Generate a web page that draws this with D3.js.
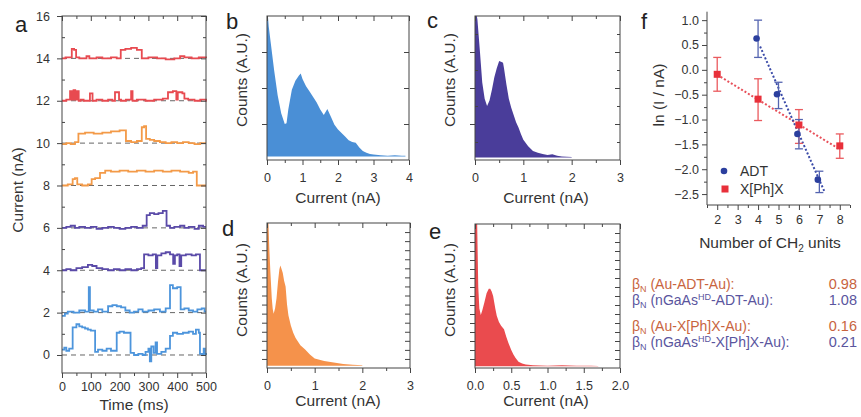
<!DOCTYPE html>
<html>
<head>
<meta charset="utf-8">
<script src="https://cdn.jsdelivr.net/npm/d3@7"></script>
<style>
body{margin:0;background:#fff}
svg{font-family:"Liberation Sans",Arial,sans-serif}
.tk line{stroke:#444}
.tk text{fill:#333;font-size:12.5px;font-family:"Liberation Sans",Arial,sans-serif}
.ttl{fill:#333;font-size:15.5px}
.lbl{fill:#222;font-size:22px}
</style>
</head>
<body>
<svg width="861" height="417"></svg>
<script>
// ---- panel a : current traces (time in ms, current in nA) ----
var timeTicks = [0,100,200,300,400,500]
var currentTicks = [0,2,4,6,8,10,12,14,16]
var traceBase = [0,2,4,6,8,10,12,14]
var traceColor = ["#4d95dc","#4d95dc","#5a4aa8","#5a4aa8","#f39a48","#f39a48","#e84a50","#e84a50"]

var trace0 = [[0,0.25],[8,0.35],[15,0.2],[25,0.3],[37,1.3],[50,1.45],[60,1.35],[70,1.3],[80,1.25],[90,1.2],[100,1.15],[115,0.15],[125,0.25],[140,0.2],[155,0.3],[170,0.2],[190,1.05],[200,1.1],[215,1.05],[238,0.1],[250,0.0],[265,0.05],[280,0.0],[290,0.15],[300,0.3],[305,-0.3],[310,0.4],[318,0.1],[325,0.6],[330,0.05],[345,0.15],[360,0.3],[375,0.9],[385,1.05],[400,1.0],[420,1.05],[440,1.1],[455,1.0],[465,1.2],[475,1.05],[479,0.05],[488,0.0],[492,0.3],[496,0.05],[500,0]]
var trace2 = [[0,1.85],[10,1.95],[20,2.05],[40,2.0],[60,2.1],[80,2.05],[93,3.2],[97,2.1],[110,2.05],[125,2.15],[140,2.05],[160,2.3],[175,2.35],[190,2.3],[205,2.25],[220,2.1],[235,2.0],[250,2.05],[265,2.15],[280,2.05],[300,2.1],[320,2.15],[340,2.05],[360,2.2],[375,3.3],[385,3.15],[400,3.2],[412,2.15],[425,2.2],[440,2.1],[455,2.05],[470,2.15],[485,2.2],[495,2.05],[500,2.05]]
var trace4 = [[0,4.0],[15,4.05],[30,4.0],[50,4.1],[70,4.15],[90,4.25],[105,4.2],[120,4.1],[140,4.05],[160,4.0],[180,4.05],[200,4.0],[220,4.05],[240,4.0],[260,4.05],[275,4.1],[285,4.75],[300,4.7],[315,4.75],[326,4.1],[331,4.7],[345,4.8],[360,4.85],[375,4.75],[386,4.3],[392,4.7],[400,4.75],[408,4.2],[414,4.7],[430,4.75],[450,4.7],[465,4.75],[479,4.0],[490,4.0],[500,4.0]]
var trace6 = [[0,6.0],[15,6.05],[30,6.1],[45,6.0],[60,6.05],[80,6.0],[100,6.05],[120,5.95],[140,6.0],[160,6.05],[180,6.0],[200,5.95],[220,6.0],[240,6.05],[260,6.0],[280,6.1],[294,6.6],[305,6.7],[320,6.65],[335,6.7],[350,6.8],[363,6.1],[375,6.0],[390,6.05],[410,6.1],[425,6.0],[440,6.05],[460,5.95],[475,6.1],[490,6.05],[500,6.05]]
var trace8 = [[0,8.0],[20,8.05],[37,8.3],[45,8.35],[53,8.05],[70,8.0],[90,8.05],[103,8.3],[115,8.35],[132,8.6],[150,8.7],[170,8.65],[200,8.7],[230,8.65],[260,8.7],[290,8.65],[320,8.7],[350,8.65],[380,8.7],[410,8.65],[440,8.6],[455,8.65],[468,8.0],[500,8.0]]
var trace10 = [[0,9.95],[15,10.0],[30,9.95],[45,10.05],[57,10.45],[80,10.5],[110,10.45],[140,10.5],[170,10.55],[200,10.6],[222,10.1],[240,10.05],[260,10.1],[277,10.75],[285,10.8],[292,10.2],[305,10.15],[320,10.1],[340,10.05],[360,10.0],[380,10.05],[400,10.0],[420,10.05],[440,10.0],[460,9.95],[480,10.0],[500,10.0]]
var trace12 = [[0,12.0],[15,12.05],[28,12.45],[34,12.05],[40,12.5],[46,12.05],[52,12.45],[58,12.0],[65,12.05],[75,12.0],[97,12.35],[106,12.0],[120,12.05],[140,12.0],[160,12.05],[175,12.0],[184,12.4],[198,12.05],[205,12.0],[222,12.05],[240,12.45],[245,12.0],[260,12.05],[290,12.0],[320,12.05],[350,12.1],[368,12.4],[385,12.45],[397,12.05],[402,12.4],[418,12.35],[425,12.1],[438,12.05],[460,12.0],[480,12.05],[500,11.95]]
var trace14 = [[0,14.0],[12,14.05],[34,14.45],[42,14.4],[49,14.05],[60,14.0],[85,14.1],[95,14.0],[120,14.05],[140,14.0],[170,14.05],[190,14.0],[204,14.4],[220,14.45],[240,14.5],[260,14.4],[277,14.0],[300,14.05],[330,14.0],[360,13.95],[390,14.0],[410,14.1],[425,14.05],[450,14.0],[475,14.05],[500,14.0]]
var traces = [trace0,trace2,trace4,trace6,trace8,trace10,trace12,trace14]

// ---- panels b-e : conductance histograms ----
var histB_x = [0,0.05,0.1,0.2,0.3,0.4,0.5,0.55,0.6,0.7,0.8,0.9,0.95,1.0,1.1,1.2,1.3,1.4,1.5,1.6,1.7,1.8,1.9,2.0,2.1,2.2,2.3,2.4,2.5,2.6,2.7,2.8,2.9,3.0,3.2,3.4,3.6,3.8,3.9]
var histB_y = [4.3,3.7,3.3,2.5,1.8,1.3,1.0,1.02,1.4,1.95,2.2,2.35,2.4,2.25,2.05,1.9,1.75,1.6,1.4,1.25,1.42,1.2,0.98,0.85,0.75,0.65,0.55,0.5,0.48,0.35,0.25,0.2,0.17,0.15,0.13,0.12,0.13,0.12,0.12]
var histC_x = [0,0.05,0.1,0.15,0.2,0.25,0.3,0.35,0.4,0.45,0.5,0.55,0.58,0.6,0.65,0.7,0.75,0.8,0.85,0.9,0.95,1.0,1.1,1.2,1.3,1.4,1.5,1.6,1.7,1.8,1.9,2.0]
var histC_y = [4.3,3.9,3.05,2.15,1.7,1.5,1.65,1.95,2.3,2.55,2.75,2.72,2.7,2.55,2.1,1.7,1.45,1.25,1.05,0.9,0.72,0.56,0.38,0.25,0.2,0.17,0.14,0.16,0.12,0.1,0.09,0.08]
var histD_x = [0,0.03,0.05,0.07,0.1,0.12,0.14,0.17,0.2,0.23,0.26,0.28,0.3,0.33,0.36,0.39,0.42,0.45,0.5,0.55,0.6,0.7,0.8,0.9,1.0,1.1,1.2,1.4,1.6,1.8,2.0]
var histD_y = [17,16,13,10.7,7.7,6.5,6.0,6.6,7.7,9.5,10.9,11.3,11.0,10.5,9.6,9.0,7.0,5.8,4.7,3.9,3.3,2.5,2.05,1.5,1.05,0.9,0.78,0.6,0.45,0.37,0.3]
var histE_x = [0,0.03,0.045,0.06,0.08,0.1,0.13,0.16,0.19,0.21,0.23,0.25,0.28,0.3,0.33,0.36,0.4,0.43,0.46,0.5,0.53,0.56,0.6,0.65,0.7,0.8,0.9,1.0,1.2,1.4,1.6,1.7]
var histE_y = [17,16,9,6.6,5.9,6.4,7.3,8.3,8.8,8.8,8.5,8.0,6.6,5.8,5.1,4.7,4.3,3.5,2.8,2.0,1.5,1.1,0.7,0.5,0.38,0.3,0.28,0.26,0.3,0.26,0.24,0.22]

// ---- panel f : ln(I) vs number of CH2 units ----
var adtN = [4,5,6,7]
var adtLn = [0.63,-0.49,-1.29,-2.21]
var adtHi = [1.0,-0.25,-1.0,-2.04]
var adtLo = [0.25,-0.78,-1.59,-2.47]
var xphN = [2,4,6,8]
var xphLn = [-0.09,-0.59,-1.11,-1.53]
var xphHi = [0.25,-0.18,-0.8,-1.29]
var xphLo = [-0.43,-1.02,-1.48,-1.78]
var adtFitN = [4.1,7.25]
var adtFitLn = [0.47,-2.45]
var xphFitN = [2,8]
var xphFitLn = [-0.1,-1.6]
var fTicksX = [2,3,4,5,6,7,8]
var fTicksY = [1.0,0.5,0.0,-0.5,-1.0,-1.5,-2.0,-2.5]

var betaLabels = ["Au-ADT-Au","nGaAs|HD|-ADT-Au","Au-X[Ph]X-Au","nGaAs|HD|-X[Ph]X-Au"]
var betaValues = ["0.98","1.08","0.16","0.21"]


var svg = d3.select("svg")

var zip = function(xs, ys){ return xs.map(function(v,i){ return [v, ys[i]] }) }

var tk = function(sel, axis)
{
    sel.attr("class","tk").call(axis)
    sel.select(".domain").remove()
    return sel
}

// Igor style boxed frame: labelled bottom/left, mirrored ticks top/right
var frame = function(x, y, o)
{
    var x0 = x.range()[0], x1 = x.range()[1], yb = y.range()[0], yt = y.range()[1]
    tk(svg.append("g").attr("transform","translate(0,"+yb+")"),
        d3.axisBottom(x).tickValues(o.xMinor).tickSize(3).tickFormat(""))
    tk(svg.append("g").attr("transform","translate(0,"+yb+")"),
        d3.axisBottom(x).tickValues(o.xMajor).tickSize(5).tickPadding(o.xPad).tickFormat(o.xFmt))
    tk(svg.append("g").attr("transform","translate(0,"+yt+")"),
        d3.axisTop(x).tickValues(o.xMinor).tickSize(-3).tickFormat(""))
    tk(svg.append("g").attr("transform","translate(0,"+yt+")"),
        d3.axisTop(x).tickValues(o.xMajor).tickSize(-5).tickFormat(""))
    tk(svg.append("g").attr("transform","translate("+x0+",0)"),
        d3.axisLeft(y).tickValues(o.yMinor).tickSize(-3).tickFormat(""))
    tk(svg.append("g").attr("transform","translate("+x0+",0)"),
        d3.axisLeft(y).tickValues(o.yMajor).tickSize(5).tickPadding(o.yPad || 3).tickFormat(o.yFmt || ""))
    tk(svg.append("g").attr("transform","translate("+x1+",0)"),
        d3.axisRight(y).tickValues(o.yMinor).tickSize(-3).tickFormat(""))
    tk(svg.append("g").attr("transform","translate("+x1+",0)"),
        d3.axisRight(y).tickValues(o.yMajor).tickSize(-5).tickFormat(""))
    svg.append("rect")
        .attr("x",x0).attr("y",yt).attr("width",x1-x0).attr("height",yb-yt)
        .attr("fill","none").attr("stroke","#444").attr("stroke-width",1)
}

var label = function(t, x, y)
{
    svg.append("text").attr("class","lbl").attr("x",x).attr("y",y).text(t)
}
var xTitle = function(t, x, y)
{
    svg.append("text").attr("class","ttl").attr("x",x).attr("y",y).attr("text-anchor","middle").text(t)
}
var yTitle = function(t, x, y)
{
    svg.append("text").attr("class","ttl").attr("text-anchor","middle")
        .attr("transform","translate("+x+","+y+") rotate(-90)").text(t)
}

// ---------------- panel a ----------------
var xa = d3.scaleLinear().domain([0,500]).range([62,206])
var ya = d3.scaleLinear().domain([-0.85,16]).range([373,16])

svg.append("g").selectAll("line")
    .data(traceBase)
    .enter()
    .append("line")
    .attr("x1",xa(0)).attr("x2",xa(500))
    .attr("y1",function(b){return ya(b)}).attr("y2",function(b){return ya(b)})
    .attr("stroke","#666").attr("stroke-width",1).attr("stroke-dasharray","5,4")

var stepLine = d3.line()
    .x(function(d){return xa(d[0])})
    .y(function(d){return ya(d[1])})
    .curve(d3.curveStepAfter)

svg.append("g").selectAll("path")
    .data(traces)
    .enter()
    .append("path")
    .attr("d",stepLine)
    .attr("fill","none")
    .attr("stroke",function(d,i){return traceColor[i]})
    .attr("stroke-width",1.8)

frame(xa, ya, {
    xMajor: timeTicks, xMinor: [50,150,250,350,450], xPad: 4, xFmt: d3.format("d"),
    yMajor: currentTicks, yMinor: [1,3,5,7,9,11,13,15], yPad: 7, yFmt: d3.format("d")
})
label("a", 15, 32)
xTitle("Time (ms)", 134, 410)
yTitle("Current (nA)", 23, 190)

// ---------------- histograms ----------------
var hist = function(xs, ys, base, color, xr, yr, xd, yd, clipId)
{
    var x = d3.scaleLinear().domain(xd).range(xr)
    var y = d3.scaleLinear().domain(yd).range(yr)
    svg.append("clipPath").attr("id",clipId)
        .append("rect").attr("x",xr[0]).attr("y",yr[1]).attr("width",xr[1]-xr[0]).attr("height",yr[0]-yr[1])
    var area = d3.area()
        .x(function(d){return x(d[0])})
        .y0(y(base))
        .y1(function(d){return y(d[1])})
    svg.append("path")
        .datum(zip(xs, ys))
        .attr("d",area)
        .attr("fill",color)
        .attr("clip-path","url(#"+clipId+")")
    return {x:x, y:y}
}

var b = hist(histB_x, histB_y, 0.1, "#4a8fd6", [267,409], [160,16], [0,4], [0,4], "cb")
frame(b.x, b.y, {xMajor:[0,1,2,3,4], xMinor:[0.5,1.5,2.5,3.5], xPad:8, xFmt:d3.format("d"),
    yMajor:[1,2,3], yMinor:[]})
label("b", 226, 29)
xTitle("Current (nA)", 338, 203)
yTitle("Counts (A.U.)", 247, 80)

var c = hist(histC_x, histC_y, 0.07, "#4a3d9a", [475,620], [160,16], [0,3], [0,4], "cc")
frame(c.x, c.y, {xMajor:[0,1,2,3], xMinor:[0.5,1.5,2.5], xPad:8, xFmt:d3.format("d"),
    yMajor:[1,2,3], yMinor:[0.5,1.5,2.5,3.5]})
label("c", 427, 28)
xTitle("Current (nA)", 546, 203)
yTitle("Counts (A.U.)", 455, 80)

var d = hist(histD_x, histD_y, 0.25, "#f5924b", [267,410], [368,223], [0,3], [0,16], "cd")
frame(d.x, d.y, {xMajor:[0,1,2,3], xMinor:[0.5,1.5,2.5], xPad:8, xFmt:d3.format("d"),
    yMajor:d3.range(1,16), yMinor:[]})
label("d", 222, 236)
xTitle("Current (nA)", 338, 406)
yTitle("Counts (A.U.)", 247, 290)

var e = hist(histE_x, histE_y, 0.2, "#ea4b4e", [475,620], [368,224], [0,2], [0,16], "ce")
frame(e.x, e.y, {xMajor:[0,0.5,1,1.5,2], xMinor:[0.25,0.75,1.25,1.75], xPad:8, xFmt:d3.format(".1f"),
    yMajor:d3.range(1,16), yMinor:[]})
label("e", 429, 239)
xTitle("Current (nA)", 546, 406)
yTitle("Counts (A.U.)", 455, 290)

// ---------------- panel f ----------------
var xf = d3.scaleLinear().domain([1.5,8.5]).range([707,850])
var yf = d3.scaleLinear().domain([-2.72,1.17]).range([205,11.7])

tk(svg.append("g").attr("transform","translate(0,205)"),
    d3.axisBottom(xf).tickValues([1.5,2.5,3.5,4.5,5.5,6.5,7.5,8.5]).tickSize(3).tickFormat(""))
tk(svg.append("g").attr("transform","translate(0,205)"),
    d3.axisBottom(xf).tickValues(fTicksX).tickSize(5).tickPadding(5).tickFormat(d3.format("d")))
tk(svg.append("g").attr("transform","translate(707,0)"),
    d3.axisLeft(yf).tickValues([0.75,0.25,-0.25,-0.75,-1.25,-1.75,-2.25]).tickSize(3).tickFormat(""))
tk(svg.append("g").attr("transform","translate(707,0)"),
    d3.axisLeft(yf).tickValues(fTicksY).tickSize(5).tickPadding(3).tickFormat(d3.format(".1f")))
svg.append("path")
    .attr("d","M707,"+yf(1.17)+"V205H"+xf(8.5))
    .attr("fill","none").attr("stroke","#444")

var fitLine = d3.line().x(function(p){return xf(p[0])}).y(function(p){return yf(p[1])})
svg.append("path").datum(zip(xphFitN, xphFitLn)).attr("d",fitLine)
    .attr("stroke","#e8505a").attr("stroke-width",2).attr("stroke-dasharray","2,2").attr("fill","none")
svg.append("path").datum(zip(adtFitN, adtFitLn)).attr("d",fitLine)
    .attr("stroke","#3a4aa8").attr("stroke-width",2).attr("stroke-dasharray","2,2").attr("fill","none")

var errBars = function(ns, hi, lo, color)
{
    var g = svg.append("g").attr("stroke",color).attr("stroke-width",1.3)
    ns.forEach(function(n,i){
        g.append("line").attr("x1",xf(n)).attr("x2",xf(n)).attr("y1",yf(hi[i])).attr("y2",yf(lo[i]))
        g.append("line").attr("x1",xf(n)-4).attr("x2",xf(n)+4).attr("y1",yf(hi[i])).attr("y2",yf(hi[i]))
        g.append("line").attr("x1",xf(n)-4).attr("x2",xf(n)+4).attr("y1",yf(lo[i])).attr("y2",yf(lo[i]))
    })
}
errBars(xphN, xphHi, xphLo, "#ea5a5e")
errBars(adtN, adtHi, adtLo, "#5464b0")

svg.append("g").selectAll("rect")
    .data(zip(xphN, xphLn))
    .enter()
    .append("rect")
    .attr("x",function(p){return xf(p[0])-3.5})
    .attr("y",function(p){return yf(p[1])-3.5})
    .attr("width",7).attr("height",7)
    .attr("fill","#e8303a")
svg.append("g").selectAll("circle")
    .data(zip(adtN, adtLn))
    .enter()
    .append("circle")
    .attr("cx",function(p){return xf(p[0])-1.5})
    .attr("cy",function(p){return yf(p[1])})
    .attr("r",3.3)
    .attr("fill","#2b3f9e")

// legend
svg.append("circle").attr("cx",724).attr("cy",171).attr("r",3.3).attr("fill","#2b3f9e")
svg.append("rect").attr("x",721.5).attr("y",185.5).attr("width",7).attr("height",7).attr("fill","#e8303a")
svg.append("text").attr("x",740).attr("y",176).attr("fill","#333").attr("font-size",14).text("ADT")
svg.append("text").attr("x",740).attr("y",194).attr("fill","#333").attr("font-size",14).text("X[Ph]X")

label("f", 641, 29)
yTitle("ln (I / nA)", 664, 95)
var nt = svg.append("text").attr("class","ttl").attr("x",770).attr("y",248).attr("text-anchor","middle")
nt.append("tspan").text("Number of CH")
nt.append("tspan").attr("font-size",10).attr("dy",4).text("2")
nt.append("tspan").attr("dy",-4).text(" units")

// beta values
var betaColor = ["#c8643e","#5a559e","#c8643e","#5a559e"]
var betaY = [289,305,331,347]
betaLabels.forEach(function(s,i){
    var t = svg.append("text").attr("x",632).attr("y",betaY[i]).attr("fill",betaColor[i]).attr("font-size",14)
    t.append("tspan").text("\u03b2")
    t.append("tspan").attr("font-size",9).attr("dy",3).text("N")
    var parts = s.split("|")
    t.append("tspan").attr("dy",-3).text(" (" + parts[0])
    if (parts.length > 1)
    {
        t.append("tspan").attr("font-size",9).attr("dy",-5).text(parts[1])
        t.append("tspan").attr("dy",5).text(parts[2] + "):")
    }
    else { t.append("tspan").text("):") }
    svg.append("text").attr("x",857).attr("y",betaY[i]).attr("text-anchor","end")
        .attr("fill",betaColor[i]).attr("font-size",14.5).text(betaValues[i])
})
</script>
</body>
</html>
